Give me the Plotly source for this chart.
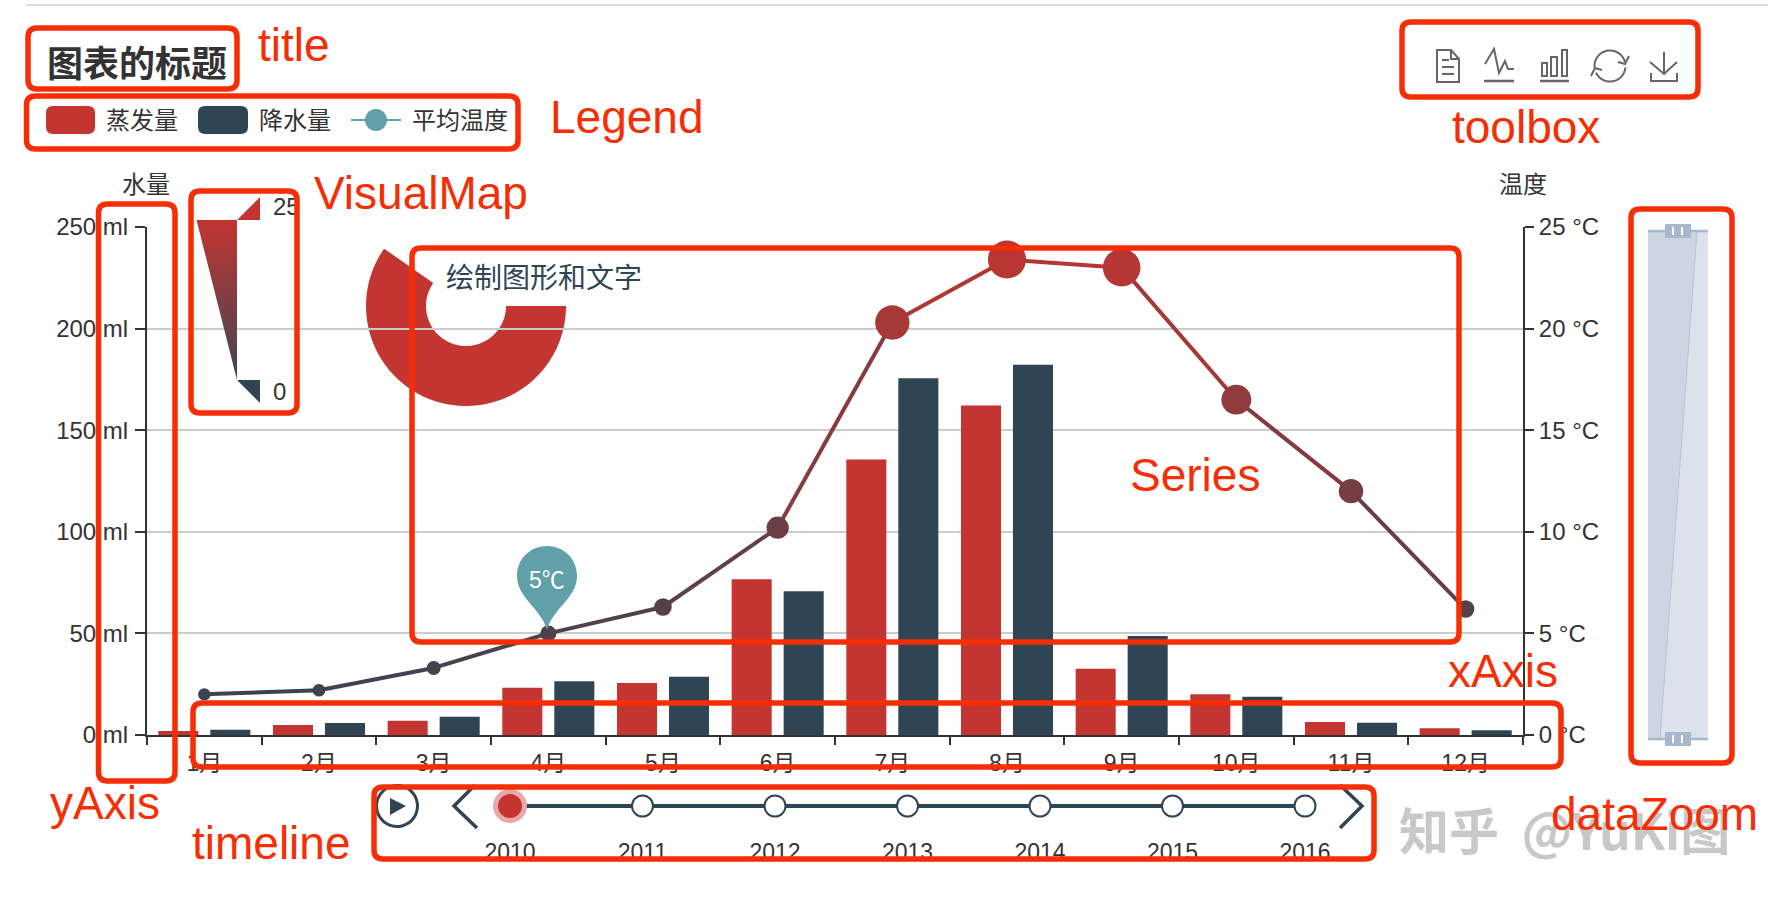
import numpy as np
import plotly.graph_objects as go

months = ["1月", "2月", "3月", "4月", "5月", "6月", "7月", "8月", "9月", "10月", "11月", "12月"]
evaporation = [2.0, 4.9, 7.0, 23.2, 25.6, 76.7, 135.6, 162.2, 32.6, 20.0, 6.4, 3.3]
rainfall = [2.6, 5.9, 9.0, 26.4, 28.7, 70.7, 175.6, 182.2, 48.7, 18.8, 6.0, 2.3]
temperature = [2.0, 2.2, 3.3, 5.0, 6.3, 10.2, 20.3, 23.4, 23.0, 16.5, 12.0, 6.2]
years = [2010, 2011, 2012, 2013, 2014, 2015, 2016]
water_ticks = [0, 50, 100, 150, 200, 250]
temp_ticks = [0, 5, 10, 15, 20, 25]

W, H = 1768, 900
RED = "#c23531"
NAVY = "#2f4554"
TEAL = "#61a0a8"
MARK = "#f62e05"
INK = "#333333"
FONT = "Liberation Sans, Noto Sans CJK SC"
CJK = "Noto Sans CJK SC"
temp_scale = [[0, NAVY], [1, RED]]


def mix(t):
    # same colour ramp as the visual map, 0 to 25 degrees
    a = np.array([0x2f, 0x45, 0x54])
    b = np.array([0xc2, 0x35, 0x31])
    c = a + (b - a) * min(t / 25, 1)
    return "rgb(%d,%d,%d)" % tuple(c)


fig = go.Figure()

# bars
fig.add_trace(go.Bar(x=months, y=evaporation, marker_color=RED, name="蒸发量"))
fig.add_trace(go.Bar(x=months, y=rainfall, marker_color=NAVY, name="降水量"))

# temperature line, one piece per month so the colour can follow the value
for i in range(len(months) - 1):
    fig.add_trace(go.Scatter(x=months[i:i + 2], y=temperature[i:i + 2], yaxis="y2", mode="lines",
                             line=dict(color=mix((temperature[i] + temperature[i + 1]) / 2), width=4),
                             hoverinfo="skip"))
fig.add_trace(go.Scatter(x=months, y=temperature, yaxis="y2", mode="markers", name="平均温度", cliponaxis=False,
                         marker=dict(color=temperature, cmin=0, cmax=25, colorscale=temp_scale, opacity=1,
                                     size=[10 + 1.2 * t for t in temperature], line_width=0)))

# timeline
fig.add_trace(go.Scatter(x=years, y=[0] * len(years), xaxis="x3", yaxis="y3", mode="lines+markers", cliponaxis=False,
                         line=dict(color=NAVY, width=4),
                         marker=dict(size=21, color="white", line=dict(color=NAVY, width=2))))
fig.add_trace(go.Scatter(x=years[:1], y=[0], xaxis="x3", yaxis="y3", mode="markers", cliponaxis=False,
                         marker=dict(size=29, color=RED, line=dict(color="rgba(232,170,168,1)", width=5))))

# visual map body, in page pixels on the x4/y4 overlay
fig.add_trace(go.Scatter(x=[196.5, 237, 237, 196.5], y=[220, 220, 380, 220], xaxis="x4", yaxis="y4", mode="lines",
                         fill="toself", line_width=0, cliponaxis=False,
                         fillgradient=dict(type="vertical", colorscale=[[0, "#3f4556"], [1, RED]])))
fig.add_trace(go.Scatter(x=[273, 273], y=[209, 394], xaxis="x4", yaxis="y4", mode="text", text=["25", "0"],
                         textposition="middle right", cliponaxis=False, textfont=dict(size=24, color=INK, family=FONT)))


def shape(path, fill=None, color=None, width=0, layer="above"):
    fig.add_shape(type="path", path=path, xref="x4", yref="y4", layer=layer,
                  fillcolor=fill or "rgba(0,0,0,0)", line=dict(color=color or "rgba(0,0,0,0)", width=width))


def rounded(x0, y0, x1, y1, r):
    return (f"M{x0+r},{y0} L{x1-r},{y0} Q{x1},{y0} {x1},{y0+r} L{x1},{y1-r} Q{x1},{y1} {x1-r},{y1} "
            f"L{x0+r},{y1} Q{x0},{y1} {x0},{y1-r} L{x0},{y0+r} Q{x0},{y0} {x0+r},{y0} Z")


def arc(cx, cy, r, a0, a1):
    t = np.radians(np.linspace(a0, a1, 40))
    return "M" + " L".join(f"{cx+r*np.cos(a):.1f},{cy+r*np.sin(a):.1f}" for a in t)


def label(x, y, text, size=23, color=INK, family=FONT, anchor="left", bold=False):
    if bold:
        text = "<b>" + text + "</b>"
    fig.add_annotation(x=x, y=y, xref="x4", yref="y4", text=text, showarrow=False, xanchor=anchor, yanchor="middle",
                       font=dict(size=size, color=color, family=family))


# rule at top of the page
shape("M26,5 L1768,5", color="#dddddd", width=2)

# donut graphic, paper coords so it stays under the gridlines
ang = np.radians(np.linspace(0, 215, 90))
outer = [(466 + 100 * np.cos(a), 306 + 100 * np.sin(a)) for a in ang]
inner = [(466 + 40 * np.cos(a), 306 + 40 * np.sin(a)) for a in ang[::-1]]
donut = "M" + " L".join(f"{x/W:.5f},{1-y/H:.5f}" for x, y in outer + inner) + " Z"
fig.add_shape(type="path", path=donut, xref="paper", yref="paper", layer="below", fillcolor=RED, line_width=0)
label(444, 276, "绘制图形和文字", size=28, color=NAVY, family=CJK)

# visual map ends
shape("M237,220 L260,197 L260,220 Z", fill=RED)
shape("M237,380 L260,380 L260,403 Z", fill=NAVY)

# axis names
label(146, 182, "水量", size=24, anchor="center", family=CJK)
label(1523, 182, "温度", size=24, anchor="center", family=CJK)

# title and legend
label(45, 61, "图表的标题", size=36, family=CJK, bold=True)
shape(rounded(46, 106, 95, 134, 7), fill=RED)
label(104, 118, "蒸发量", size=24, family=CJK)
shape(rounded(198, 106, 248, 134, 7), fill=NAVY)
label(257, 118, "降水量", size=24, family=CJK)
shape("M351,120 L401,120", color=TEAL, width=2)
shape(arc(376, 120, 11, 0, 360) + " Z", fill=TEAL)
label(410, 118, "平均温度", size=24, family=CJK)

# temperature pin
shape("M547,630 C541,608 517,598 517,576 C517,558 531,546 547,546 C563,546 577,558 577,576 "
      "C577,598 553,608 547,630 Z", fill=TEAL)
label(547, 580, "5℃", size=23, color="white", anchor="center")

# toolbox icons
GREY = "#666666"
shape("M1437,50 L1451,50 L1459,59 L1459,82 L1437,82 Z M1451,50 L1451,59 L1459,59", color=GREY, width=2)
shape("M1442,60 L1449,60 M1442,67 L1454,67 M1442,74 L1454,74", color=GREY, width=2)
shape("M1484,81 L1514,81", color=GREY, width=2.5)
shape("M1485,64 L1494,49 L1499,73 L1505,61 L1508,69 L1514,69", color=GREY, width=2)
shape("M1540,81 L1569,81", color=GREY, width=2.5)
shape("M1542,63 L1547,63 L1547,76 L1542,76 Z M1551,57 L1557,57 L1557,76 L1551,76 Z "
      "M1562,50 L1567,50 L1567,76 L1562,76 Z", color=GREY, width=2)
shape(arc(1610, 66, 15.5, 175, 345), color=GREY, width=2)
shape(arc(1610, 66, 15.5, 5, 155), color=GREY, width=2)
shape("M1618,62 L1625,64 L1629,56", color=GREY, width=2)
shape("M1602,70 L1595,68 L1591,76", color=GREY, width=2)
shape("M1664,52 L1664,74 M1650,62 L1664,74 L1677,62 M1651,73 L1651,81 L1677,81 L1677,73", color=GREY, width=2)

# data zoom
shape("M1648,231 L1708,231 L1708,739 L1648,739 Z", fill="#dbe2ec")
shape("M1648,231 L1697,231 L1660,739 L1648,739 Z", fill="#cdd5e2")
shape("M1697,231 L1660,739", color="#b9c4d4", width=1)
shape("M1648,231 L1708,231 M1648,739 L1708,739", color="#a8b7cb", width=2.5)
for y0 in (224, 732):
    shape(f"M1665,{y0} L1691,{y0} L1691,{y0+14} L1665,{y0+14} Z", fill="#a8b7cb")
    shape(f"M1673,{y0+3} L1673,{y0+11} M1682,{y0+3} L1682,{y0+11}", color="white", width=2)

# timeline controls
shape(arc(397, 806, 20.5, 0, 360) + " Z", color=NAVY, width=3)
shape("M390,798 L406,806 L390,815 Z", fill=NAVY)
shape("M475,785 L454,806 L477,828", color=NAVY, width=3.5)
shape("M1340,785 L1362,806 L1340,828", color=NAVY, width=3.5)

# watermark
label(1397, 828, "<b>知乎&nbsp;&nbsp;@YuKi图</b>", size=50, color="#c8c8c8", family=CJK)

# red call-out boxes and their names
boxes = [(28, 28, 237, 89), (26.5, 96, 518, 149), (191, 191, 297, 413), (98.5, 204, 175, 781),
         (412, 248, 1459, 642), (193, 703, 1561, 767), (374, 787, 1374, 859), (1402, 22, 1698, 97),
         (1631, 209, 1732, 763)]
for b in boxes:
    shape(rounded(*b, 9), color=MARK, width=5.5)
names = [("title", 255.5, 45), ("Legend", 548, 117), ("VisualMap", 311.5, 193), ("toolbox", 1449.5, 127),
         ("Series", 1127.5, 475), ("xAxis", 1445.5, 671), ("yAxis", 47.5, 803), ("timeline", 189.5, 843),
         ("dataZoom", 1548.5, 814)]
for text, x, y in names:
    label(x, y, text, size=46, color=MARK, family="Liberation Sans")

axis_style = dict(showline=True, linecolor=INK, linewidth=2, ticks="outside", tickcolor=INK, tickwidth=2,
                  automargin=False, tickfont=dict(size=24, color=INK, family=FONT))
fig.update_layout(
    template="none",
    width=W, height=H, margin=dict(l=0, r=0, t=0, b=0, autoexpand=False), autosize=False,
    paper_bgcolor="white", plot_bgcolor="rgba(0,0,0,0)", showlegend=False,
    barmode="group", bargap=0.093, bargroupgap=0.23,
    xaxis=dict(domain=[147 / W, 1523 / W], type="category", range=[-0.5, 11.5], tickson="boundaries", ticklen=8,
               anchor="y", showgrid=False, zeroline=False, ticklabelstandoff=6,
               **{**axis_style, "tickfont": dict(size=23, color=INK, family=FONT)}),
    yaxis=dict(domain=[1 - 735 / H, 1 - 227 / H], range=[0, 250], tickvals=water_ticks,
               ticktext=[f"{v} ml" for v in water_ticks], ticklen=10, ticklabelstandoff=2,
               showgrid=True, gridcolor="#cccccc", gridwidth=2, zeroline=False, anchor="x", **axis_style),
    yaxis2=dict(domain=[1 - 735 / H, 1 - 227 / H], range=[0, 25], tickvals=temp_ticks,
                ticktext=[f"{v} °C" for v in temp_ticks], ticklen=9,
                overlaying="y", side="right", anchor="x", showgrid=False, zeroline=False, **axis_style),
    xaxis3=dict(domain=[510 / W, 1305 / W], range=[2010, 2016], anchor="y3", tickvals=years, showgrid=False,
                zeroline=False, showline=False, automargin=False, ticks="",
                tickfont=dict(size=23, color=INK, family=FONT), ticklabelstandoff=10),
    yaxis3=dict(domain=[1 - 826 / H, 1 - 786 / H], range=[-1, 1], anchor="x3", visible=False),
    xaxis4=dict(domain=[0, 1], range=[0, W], anchor="y4", visible=False, fixedrange=True),
    yaxis4=dict(domain=[0, 1], range=[H, 0], anchor="x4", visible=False, fixedrange=True),
)

fig.write_html("out.html", config=dict(displayModeBar=False),
               post_script="document.body.style.margin='0';document.body.style.overflow='hidden';")
